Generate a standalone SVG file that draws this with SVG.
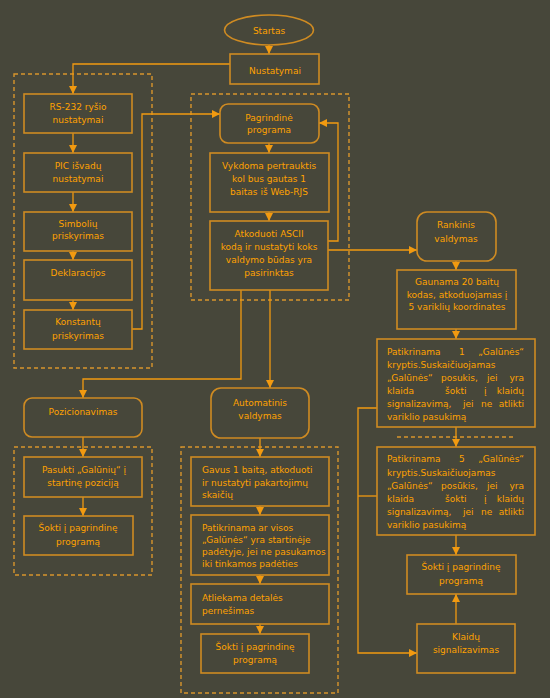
<svg xmlns="http://www.w3.org/2000/svg" width="550" height="698" viewBox="0 0 550 698">
<style>
.bg{fill:#47473a}
.box{fill:none;stroke:#cf8b22;stroke-width:1.6}
.grp{fill:none;stroke:#d8952c;stroke-width:1.4;stroke-dasharray:4,3}
.con{fill:none;stroke:#f29a10;stroke-width:1.3}
text{font-family:"DejaVu Sans",Verdana,sans-serif;font-size:9px;fill:#ffa200}
.c{text-anchor:middle}
.e{text-anchor:end}
</style>
<defs>
<marker id="ar" markerUnits="userSpaceOnUse" markerWidth="10" markerHeight="10" viewBox="0 0 10 10" refX="9" refY="5" orient="auto">
<path d="M1,1 L9,5 L1,9 Z" fill="#f29a10"/>
</marker>
</defs>
<rect class="bg" x="0" y="0" width="550" height="698"/>

<g id="groups">
<rect class="grp" x="14" y="74" width="138" height="294"/>
<rect class="grp" x="191" y="94" width="158" height="206"/>
<rect class="grp" x="14" y="447" width="138" height="128"/>
<rect class="grp" x="181" y="447" width="157" height="246"/>
<line class="grp" x1="397" y1="437" x2="513" y2="437"/>
</g>

<g id="connectors">
<path class="con" d="M269 45V54" marker-end="url(#ar)"/>
<path class="con" d="M230 64H73V94" marker-end="url(#ar)"/>
<path class="con" d="M73 133V153" marker-end="url(#ar)"/>
<path class="con" d="M73 192V212" marker-end="url(#ar)"/>
<path class="con" d="M73 251V260" marker-end="url(#ar)"/>
<path class="con" d="M73 300V310" marker-end="url(#ar)"/>
<path class="con" d="M132 329H142V114H220" marker-end="url(#ar)"/>
<path class="con" d="M269 143V153" marker-end="url(#ar)"/>
<path class="con" d="M269 212V221" marker-end="url(#ar)"/>
<path class="con" d="M328 241H338V123H319" marker-end="url(#ar)"/>
<path class="con" d="M328 250H417" marker-end="url(#ar)"/>
<path class="con" d="M456 261V270" marker-end="url(#ar)"/>
<path class="con" d="M456 329V339" marker-end="url(#ar)"/>
<path class="con" d="M456 427V447" marker-end="url(#ar)"/>
<path class="con" d="M456 535V555" marker-end="url(#ar)"/>
<path class="con" d="M456 624V594" marker-end="url(#ar)"/>
<path class="con" d="M377 408H358V653H417" marker-end="url(#ar)"/>
<path class="con" d="M377 496H358"/>
<path class="con" d="M241 290V379H83V398" marker-end="url(#ar)"/>
<path class="con" d="M270 290V388" marker-end="url(#ar)"/>
<path class="con" d="M83 437V457" marker-end="url(#ar)"/>
<path class="con" d="M83 497V516" marker-end="url(#ar)"/>
<path class="con" d="M260 438V457" marker-end="url(#ar)"/>
<path class="con" d="M260 506V515" marker-end="url(#ar)"/>
<path class="con" d="M260 575V584" marker-end="url(#ar)"/>
<path class="con" d="M260 624V634" marker-end="url(#ar)"/>
</g>

<g id="startas">
<ellipse class="box" cx="269" cy="30" rx="44.5" ry="15"/>
<text class="c" x="269" y="33.5">Startas</text>
</g>
<g id="nustatymai">
<rect class="box" x="230" y="54" width="89" height="30"/>
<text class="c" x="275" y="74">Nustatymai</text>
</g>
<g id="rs232">
<rect class="box" x="24" y="94" width="108" height="39"/>
<text class="c" x="78" y="109.5">RS-232 ryšio</text>
<text class="c" x="78" y="122.5">nustatymai</text>
</g>
<g id="pic">
<rect class="box" x="24" y="153" width="108" height="39"/>
<text class="c" x="78" y="168.5">PIC išvadų</text>
<text class="c" x="78" y="181.5">nustatymai</text>
</g>
<g id="simboliu">
<rect class="box" x="24" y="212" width="108" height="39"/>
<text class="c" x="78" y="226.5">Simbolių</text>
<text class="c" x="78" y="238.5">priskyrimas</text>
</g>
<g id="deklaracijos">
<rect class="box" x="24" y="260" width="108" height="40"/>
<text class="c" x="78" y="275.5">Deklaracijos</text>
</g>
<g id="konstantu">
<rect class="box" x="24" y="310" width="108" height="39"/>
<text class="c" x="78" y="324.5">Konstantų</text>
<text class="c" x="78" y="338.5">priskyrimas</text>
</g>
<g id="pagrindine">
<rect class="box" x="220" y="104" width="99" height="39" rx="8"/>
<text class="c" x="269" y="120.5">Pagrindinė</text>
<text class="c" x="269" y="132.5">programa</text>
</g>
<g id="vykdoma">
<rect class="box" x="210" y="153" width="119" height="59"/>
<text class="c" x="269" y="168.5">Vykdoma pertrauktis</text>
<text class="c" x="269" y="181.5">kol bus gautas 1</text>
<text class="c" x="269" y="194.5">baitas iš Web-RJS</text>
</g>
<g id="atkoduoti">
<rect class="box" x="210" y="221" width="118" height="69"/>
<text class="c" x="269" y="236.5">Atkoduoti ASCII</text>
<text class="c" x="269" y="249.5">kodą ir nustatyti koks</text>
<text class="c" x="269" y="262.5">valdymo būdas yra</text>
<text class="c" x="269" y="275.5">pasirinktas</text>
</g>
<g id="rankinis">
<rect class="box" x="417" y="212" width="79" height="49" rx="10"/>
<text class="c" x="456" y="227.5">Rankinis</text>
<text class="c" x="456" y="241.5">valdymas</text>
</g>
<g id="gaunama">
<rect class="box" x="397" y="270" width="119" height="59"/>
<text class="c" x="457" y="284.5">Gaunama 20 baitų</text>
<text class="c" x="457" y="297.5">kodas, atkoduojamas į</text>
<text class="c" x="457" y="309.5">5 variklių koordinates</text>
</g>
<g id="patikrinama1">
<rect class="box" x="377" y="339" width="158" height="88"/>
<text x="387" y="354.5">Patikrinama</text>
<text x="459" y="354.5">1</text>
<text class="e" x="524" y="354.5">„Galūnės“</text>
<text x="387" y="367.5">kryptis.Suskaičiuojamas</text>
<text x="387" y="380.5">„Galūnės“</text>
<text x="441" y="380.5">posukis,</text>
<text x="487" y="380.5">jei</text>
<text class="e" x="524" y="380.5">yra</text>
<text x="387" y="393.5">klaida</text>
<text x="445" y="393.5">šokti</text>
<text x="484" y="393.5">į</text>
<text class="e" x="524" y="393.5">klaidų</text>
<text x="387" y="406.5">signalizavimą,</text>
<text x="463" y="406.5">jei</text>
<text x="481" y="406.5">ne</text>
<text class="e" x="524" y="406.5">atlikti</text>
<text x="387" y="419.5">variklio pasukimą</text>
</g>
<g id="patikrinama5">
<rect class="box" x="377" y="447" width="158" height="88"/>
<text x="387" y="461.5">Patikrinama</text>
<text x="459" y="461.5">5</text>
<text class="e" x="524" y="461.5">„Galūnės“</text>
<text x="387" y="475.5">kryptis.Suskaičiuojamas</text>
<text x="387" y="488.5">„Galūnės“</text>
<text x="441" y="488.5">posūkis,</text>
<text x="487" y="488.5">jei</text>
<text class="e" x="524" y="488.5">yra</text>
<text x="387" y="501.5">klaida</text>
<text x="445" y="501.5">šokti</text>
<text x="484" y="501.5">į</text>
<text class="e" x="524" y="501.5">klaidų</text>
<text x="387" y="514.5">signalizavimą,</text>
<text x="463" y="514.5">jei</text>
<text x="481" y="514.5">ne</text>
<text class="e" x="524" y="514.5">atlikti</text>
<text x="387" y="527.5">variklio pasukimą</text>
</g>
<g id="sokti-right">
<rect class="box" x="407" y="555" width="109" height="39"/>
<text class="c" x="461" y="569.5">Šokti į pagrindinę</text>
<text class="c" x="461" y="583.5">programą</text>
</g>
<g id="klaidu">
<rect class="box" x="417" y="624" width="98" height="49"/>
<text class="c" x="466" y="639.5">Klaidų</text>
<text class="c" x="466" y="652.5">signalizavimas</text>
</g>
<g id="pozicionavimas">
<rect class="box" x="24" y="398" width="118" height="39" rx="8"/>
<text class="c" x="83" y="414.5">Pozicionavimas</text>
</g>
<g id="pasukti">
<rect class="box" x="24" y="457" width="118" height="40"/>
<text class="c" x="84" y="472.5">Pasukti „Galūnių“ į</text>
<text class="c" x="83" y="485.5">startinę poziciją</text>
</g>
<g id="sokti-left">
<rect class="box" x="24" y="516" width="109" height="39"/>
<text class="c" x="78" y="530.5">Šokti į pagrindinę</text>
<text class="c" x="78" y="544.5">programą</text>
</g>
<g id="automatinis">
<rect class="box" x="211" y="388" width="98" height="50" rx="10"/>
<text class="c" x="260" y="405.5">Automatinis</text>
<text class="c" x="260" y="418.5">valdymas</text>
</g>
<g id="gavus">
<rect class="box" x="191" y="457" width="138" height="49"/>
<text x="202" y="472.5">Gavus 1 baitą, atkoduoti</text>
<text x="202" y="485.5">ir nustatyti pakartojimų</text>
<text x="202" y="497.5">skaičių</text>
</g>
<g id="patikrinama-ar">
<rect class="box" x="191" y="515" width="138" height="60"/>
<text x="202" y="530.5">Patikrinama ar visos</text>
<text x="202" y="542.5">„Galūnės“ yra startinėje</text>
<text x="202" y="554.5">padėtyje, jei ne pasukamos</text>
<text x="202" y="566.5">iki tinkamos padėties</text>
</g>
<g id="atliekama">
<rect class="box" x="191" y="584" width="138" height="40"/>
<text x="202" y="600.5">Atliekama detalės</text>
<text x="202" y="613.5">pernešimas</text>
</g>
<g id="sokti-mid">
<rect class="box" x="201" y="634" width="108" height="39"/>
<text class="c" x="255" y="649.5">Šokti į pagrindinę</text>
<text class="c" x="255" y="662.5">programą</text>
</g>
</svg>
